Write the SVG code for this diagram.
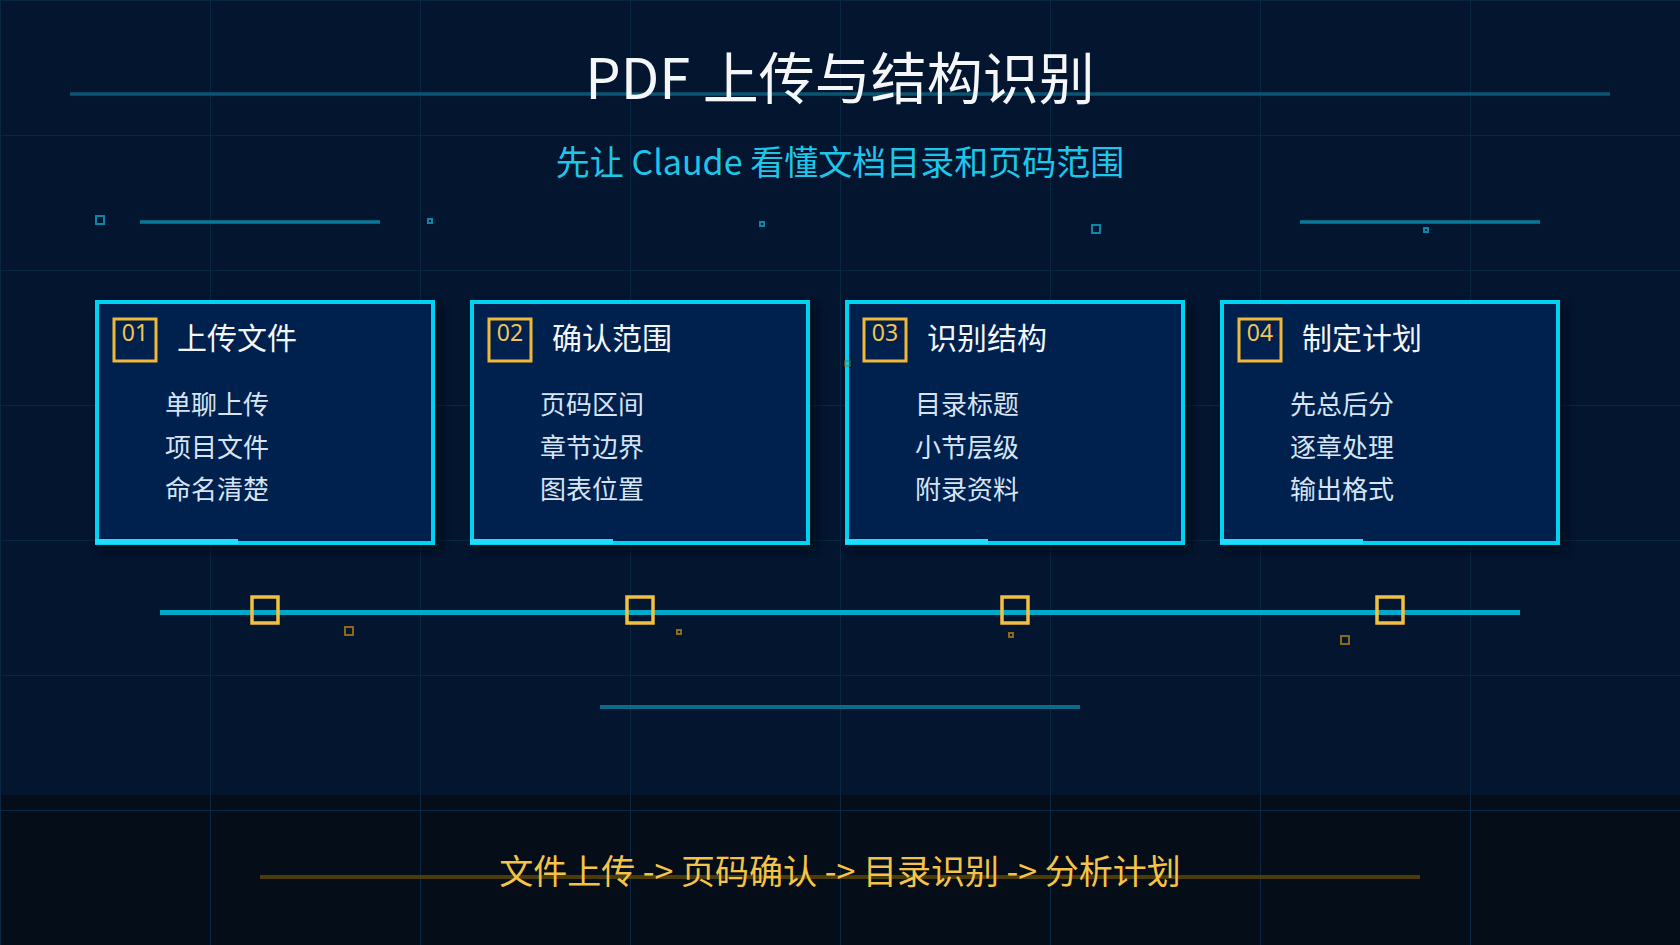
<svg xmlns="http://www.w3.org/2000/svg" width="1680" height="945" viewBox="0 0 1680 945">
<defs>
<pattern id="grid" x="0" y="0" width="210" height="135" patternUnits="userSpaceOnUse">
<path d="M0.5 0 V135 M0 0.5 H210" fill="none" stroke="#092642" stroke-width="1"/>
</pattern>
<filter id="shadow" x="-10%" y="-10%" width="125%" height="130%">
<feGaussianBlur stdDeviation="4"/>
</filter>
<style>
.card{fill:#00204d;stroke:#00d2f2;stroke-width:4}
.cardshadow{fill:#020a16;opacity:0.75}
.accent{stroke:#22dcff;stroke-width:5}
.numbox{fill:none;stroke:#f0b838;stroke-width:3}
.num{font-family:"Noto Sans","Noto Sans CJK SC",sans-serif;font-size:23px;fill:#f2c452;text-anchor:middle}
.head{font-family:"Noto Sans CJK SC","Noto Sans",sans-serif;font-size:30px;fill:#f2f6fa}
.item{font-family:"Noto Sans CJK SC","Noto Sans",sans-serif;font-size:26px;fill:#d6e4f4}
.deco{fill:none;stroke:#0a86a8;stroke-width:2}
.decofaint{fill:none;stroke:#2a4e78;stroke-width:1.5;opacity:0.7}
.gold{fill:none;stroke:#f2c040;stroke-width:3.5}
.golddim{fill:none;stroke:#8a6a14;stroke-width:2}
</style>
</defs>
<rect x="0" y="0" width="1680" height="945" fill="#041530"/>
<rect x="0" y="795" width="1680" height="150" fill="#040d18"/>
<rect x="0" y="0" width="1680" height="945" fill="url(#grid)"/>

<g id="decorations">
<line x1="70" y1="94" x2="1610" y2="94" stroke="#0b5572" stroke-width="3.5"/>
<rect x="96" y="216" width="8" height="8" class="deco"/>
<line x1="140" y1="222" x2="380" y2="222" stroke="#0a7898" stroke-width="3.5"/>
<rect x="428" y="219" width="4" height="4" class="deco" stroke-width="1.5"/>
<rect x="760" y="222" width="4" height="4" class="deco" stroke-width="1.5"/>
<rect x="1092" y="225" width="8" height="8" class="deco"/>
<line x1="1300" y1="222" x2="1540" y2="222" stroke="#0a7898" stroke-width="3.5"/>
<rect x="1424" y="228" width="4" height="4" class="deco" stroke-width="1.5"/>
<line x1="600" y1="707" x2="1080" y2="707" stroke="#0a6a88" stroke-width="4"/>
<line x1="260" y1="877" x2="1420" y2="877" stroke="#4c3c08" stroke-width="4"/>
<rect x="178" y="353" width="4" height="4" class="decofaint"/>
<rect x="510" y="355" width="4" height="4" class="decofaint"/>
<rect x="1175" y="362" width="4" height="4" class="decofaint"/>
<rect x="1507" y="365" width="4" height="4" class="decofaint"/>
<rect x="1258" y="499" width="4" height="4" class="decofaint"/>
</g>

<g id="title">
<text x="840" y="99" font-family="'Noto Sans CJK SC','Noto Sans',sans-serif" font-size="56" fill="#f4f6f8" text-anchor="middle">PDF 上传与结构识别</text>
<text x="840" y="175" font-family="'Noto Sans CJK SC','Noto Sans',sans-serif" font-size="34" fill="#1ec6ea" text-anchor="middle">先让 Claude 看懂文档目录和页码范围</text>
</g>

<g id="card1">
<rect x="99" y="304" width="342" height="247" class="cardshadow" filter="url(#shadow)"/>
<rect x="97" y="302" width="336" height="241" class="card"/>
<line x1="95" y1="541.5" x2="238" y2="541.5" class="accent"/>
<rect x="114" y="319" width="42" height="42" class="numbox"/>
<text x="135" y="341" class="num">01</text>
<text x="177" y="349" class="head">上传文件</text>
<text x="165" y="414" class="item">单聊上传</text>
<text x="165" y="457" class="item">项目文件</text>
<text x="165" y="499" class="item">命名清楚</text>
</g>

<g id="card2">
<rect x="474" y="304" width="342" height="247" class="cardshadow" filter="url(#shadow)"/>
<rect x="472" y="302" width="336" height="241" class="card"/>
<line x1="470" y1="541.5" x2="613" y2="541.5" class="accent"/>
<rect x="489" y="319" width="42" height="42" class="numbox"/>
<text x="510" y="341" class="num">02</text>
<text x="552" y="349" class="head">确认范围</text>
<text x="540" y="414" class="item">页码区间</text>
<text x="540" y="457" class="item">章节边界</text>
<text x="540" y="499" class="item">图表位置</text>
</g>

<g id="card3">
<rect x="849" y="304" width="342" height="247" class="cardshadow" filter="url(#shadow)"/>
<rect x="847" y="302" width="336" height="241" class="card"/>
<line x1="845" y1="541.5" x2="988" y2="541.5" class="accent"/>
<rect x="864" y="319" width="42" height="42" class="numbox"/>
<text x="885" y="341" class="num">03</text>
<text x="927" y="349" class="head">识别结构</text>
<text x="915" y="414" class="item">目录标题</text>
<text x="915" y="457" class="item">小节层级</text>
<text x="915" y="499" class="item">附录资料</text>
<rect x="845" y="361" width="5" height="5" fill="none" stroke="#8a7020" stroke-width="1.5" opacity="0.7"/>
</g>

<g id="card4">
<rect x="1224" y="304" width="342" height="247" class="cardshadow" filter="url(#shadow)"/>
<rect x="1222" y="302" width="336" height="241" class="card"/>
<line x1="1220" y1="541.5" x2="1363" y2="541.5" class="accent"/>
<rect x="1239" y="319" width="42" height="42" class="numbox"/>
<text x="1260" y="341" class="num">04</text>
<text x="1302" y="349" class="head">制定计划</text>
<text x="1290" y="414" class="item">先总后分</text>
<text x="1290" y="457" class="item">逐章处理</text>
<text x="1290" y="499" class="item">输出格式</text>
</g>

<g id="connectors">
<line x1="160" y1="612.5" x2="1520" y2="612.5" stroke="#00a8cc" stroke-width="5"/>
<rect x="252" y="597" width="26" height="26" class="gold"/>
<rect x="627" y="597" width="26" height="26" class="gold"/>
<rect x="1002" y="597" width="26" height="26" class="gold"/>
<rect x="1377" y="597" width="26" height="26" class="gold"/>
<rect x="345" y="627" width="8" height="8" class="golddim"/>
<rect x="677" y="630" width="4" height="4" class="golddim"/>
<rect x="1009" y="633" width="4" height="4" class="golddim"/>
<rect x="1341" y="636" width="8" height="8" class="golddim"/>
</g>

<g id="footer">
<text x="840" y="884" font-family="'Noto Sans CJK SC','Noto Sans',sans-serif" font-size="34" fill="#f4c348" text-anchor="middle">文件上传 -&gt; 页码确认 -&gt; 目录识别 -&gt; 分析计划</text>
</g>
</svg>
